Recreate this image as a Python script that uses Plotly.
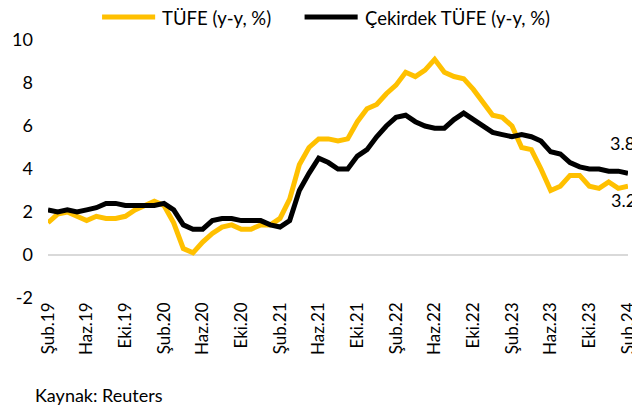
import plotly.graph_objects as go

month_names = ["Oca", "Şub", "Mar", "Nis", "May", "Haz", "Tem", "Ağu", "Eyl", "Eki", "Kas", "Ara"]
# Monthly categories Feb 2019 .. Feb 2024
months = []
for yr in range(2019, 2025):
    for m in range(12):
        if (yr == 2019 and m < 1) or (yr == 2024 and m > 1):
            continue
        months.append(f"{month_names[m]}.{str(yr)[2:]}")

tufe = [1.5, 1.9, 2.0, 1.8, 1.6, 1.8, 1.7, 1.7, 1.8, 2.1, 2.3,
        2.5, 2.3, 1.5, 0.3, 0.1, 0.6, 1.0, 1.3, 1.4, 1.2, 1.2, 1.4,
        1.4, 1.7, 2.6, 4.2, 5.0, 5.4, 5.4, 5.3, 5.4, 6.2, 6.8, 7.0,
        7.5, 7.9, 8.5, 8.3, 8.6, 9.1, 8.5, 8.3, 8.2, 7.7, 7.1, 6.5,
        6.4, 6.0, 5.0, 4.9, 4.0, 3.0, 3.2, 3.7, 3.7, 3.2, 3.1, 3.4,
        3.1, 3.2]
cekirdek = [2.1, 2.0, 2.1, 2.0, 2.1, 2.2, 2.4, 2.4, 2.3, 2.3, 2.3,
            2.3, 2.4, 2.1, 1.4, 1.2, 1.2, 1.6, 1.7, 1.7, 1.6, 1.6, 1.6,
            1.4, 1.3, 1.6, 3.0, 3.8, 4.5, 4.3, 4.0, 4.0, 4.6, 4.9, 5.5,
            6.0, 6.4, 6.5, 6.2, 6.0, 5.9, 5.9, 6.3, 6.6, 6.3, 6.0, 5.7,
            5.6, 5.5, 5.6, 5.5, 5.3, 4.8, 4.7, 4.3, 4.1, 4.0, 4.0, 3.9,
            3.9, 3.8]
tick_labels = months[::4]
y_ticks = [-2, 0, 2, 4, 6, 8, 10]
y_tick_text = ["-2", "0", "2", "4", "6", "8", "10"]

YELLOW = "#FFC000"
BLACK = "#000000"
FONT = "Lato"

fig = go.Figure()
fig.add_trace(go.Scatter(x=months, y=tufe, mode="lines", name="TÜFE (y-y, %)",
                         line=dict(color=YELLOW, width=5), showlegend=False))
fig.add_trace(go.Scatter(x=months, y=cekirdek, mode="lines", name="Çekirdek TÜFE (y-y, %)",
                         line=dict(color=BLACK, width=5), showlegend=False))

# end-value labels
fig.add_annotation(x=months[-1], y=cekirdek[-1], text=f"{cekirdek[-1]:.1f}", showarrow=False,
                   xanchor="right", yanchor="middle", yshift=30, xshift=9,
                   font=dict(family=FONT, size=18, color="#000000"))
fig.add_annotation(x=months[-1], y=tufe[-1], text=f"{tufe[-1]:.1f}", showarrow=False,
                   xanchor="right", yanchor="middle", yshift=-14, xshift=10,
                   font=dict(family=FONT, size=18, color="#000000"))

# manual legend (positions given in window pixels, plot area spans x 48..638, y 40..298)
def px_x(p):
    return (p - 48) / 590
def px_y(p):
    return (298 - p) / 258

for x0, x1, col, tx, label in [(103, 157, YELLOW, 162, "TÜFE (y-y, %)"),
                               (309, 363, BLACK, 368, "Çekirdek TÜFE (y-y, %)")]:
    fig.add_shape(type="line", xref="paper", yref="paper",
                  x0=px_x(x0), x1=px_x(x1), y0=px_y(17), y1=px_y(17),
                  line=dict(color=col, width=5))
    fig.add_annotation(xref="paper", yref="paper", x=px_x(tx), y=px_y(18), text=label,
                       showarrow=False, xanchor="left", yanchor="middle",
                       font=dict(family=FONT, size=18.5, color="#000000"))

fig.add_annotation(xref="paper", yref="paper", x=px_x(33), y=px_y(395), text="Kaynak: Reuters",
                   showarrow=False, xanchor="left", yanchor="middle",
                   font=dict(family=FONT, size=18, color="#000000"))

# page body has an 8px margin: figure is 632x402 placed at (8, 8)
fig.update_layout(
    width=632, height=402,
    margin=dict(l=40, r=2, t=32, b=112),
    paper_bgcolor="white", plot_bgcolor="white",
    font=dict(family=FONT, color="#000000"),
)
fig.update_xaxes(type="category", categoryorder="array", categoryarray=months,
                 range=[0, len(months) - 1],
                 tickmode="array", tickvals=tick_labels, ticktext=tick_labels,
                 tickangle=-90, tickfont=dict(family=FONT, size=17),
                 showgrid=False, showline=False, zeroline=False, ticks="")
fig.update_yaxes(range=[-2, 10], tickmode="array", tickvals=y_ticks, ticktext=y_tick_text,
                 tickfont=dict(family=FONT, size=18),
                 showgrid=False, showline=False, zeroline=True,
                 zerolinecolor="#D9D9D9", zerolinewidth=2, ticks="", ticklabelstandoff=14)

fig.write_html("out.html")
